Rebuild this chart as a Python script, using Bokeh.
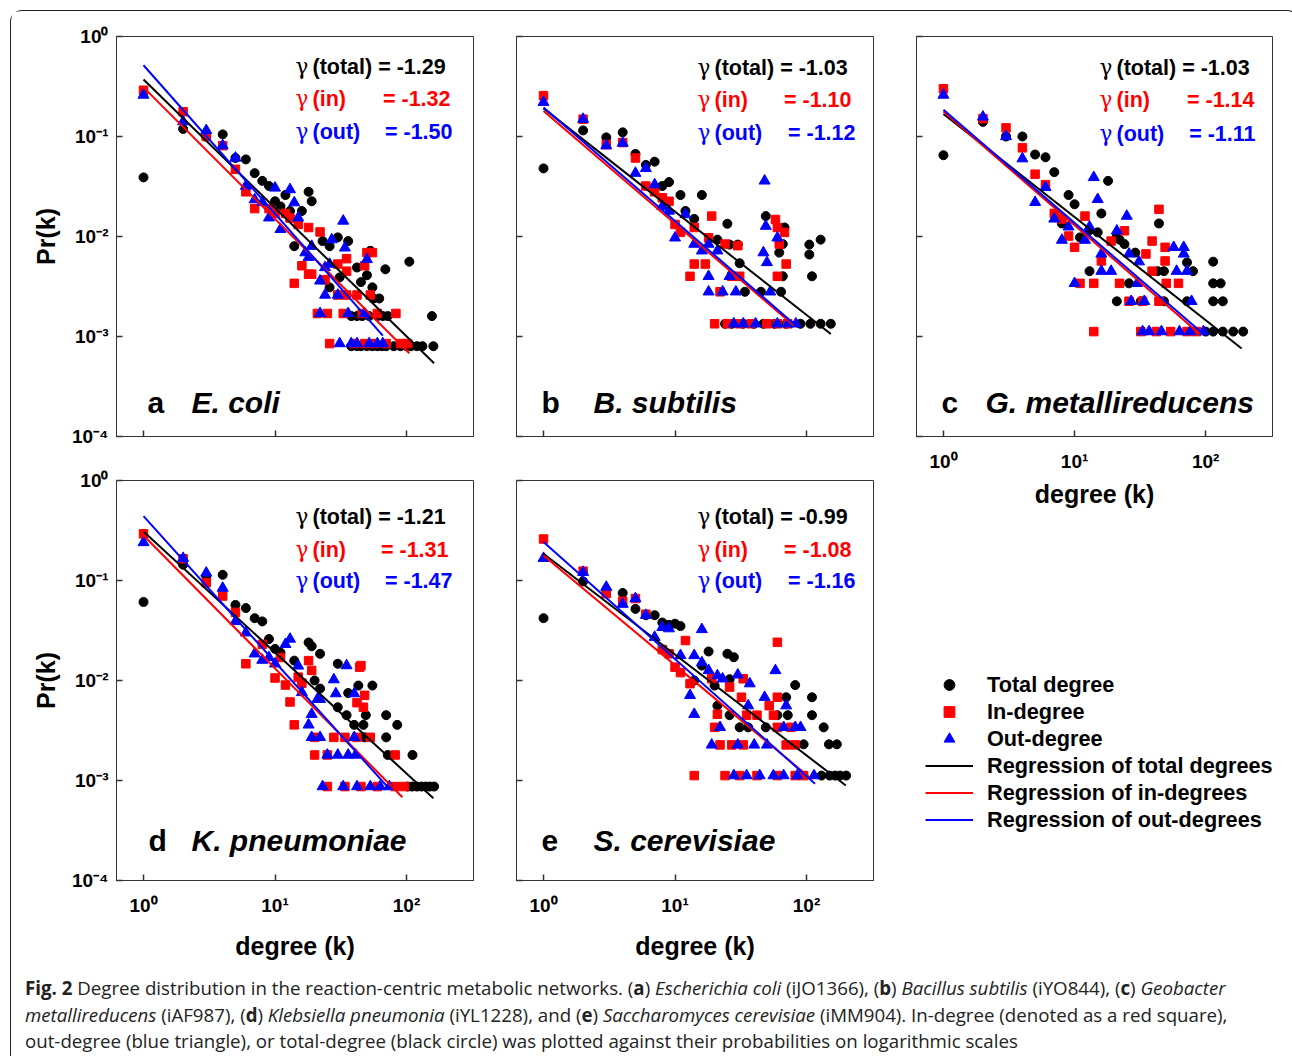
import math
import numpy as np
from bokeh.plotting import figure
from bokeh.models import (Label, Legend, LegendItem, FixedTicker,
                          CustomJSTickFormatter, Range1d, Div)
from bokeh.layouts import row, column
from bokeh.embed import file_html
from bokeh.resources import INLINE

# ---------------------------------------------------------------- data
panel_letters = ["a", "b", "c", "d", "e"]
species = ["E. coli", "B. subtilis", "G. metallireducens", "K. pneumoniae", "S. cerevisiae"]
gamma_total = ["-1.29", "-1.03", "-1.03", "-1.21", "-0.99"]
gamma_in = ["-1.32", "-1.10", "-1.14", "-1.31", "-1.08"]
gamma_out = ["-1.50", "-1.12", "-1.11", "-1.47", "-1.16"]
x_ticks = [1, 10, 100]
y_ticks = [1e-4, 1e-3, 1e-2, 1e-1, 1]

# (a) E. coli
ecoli_total_k = [1, 2, 3, 4, 5, 6, 7, 8, 9, 10, 11, 12, 13, 14, 16, 18, 19, 23, 26, 26, 30, 31, 36, 42, 45, 50, 53, 55, 56, 62, 69, 105,
                 38, 42, 46, 52, 60, 66, 72, 38, 42, 45, 50, 55, 60, 65, 70, 80, 90, 100, 108, 120, 132, 156, 160]
ecoli_total_p = [0.039, 0.119, 0.1, 0.105, 0.061, 0.059, 0.043, 0.036, 0.032, 0.0225, 0.020, 0.026, 0.018, 0.008, 0.018, 0.028, 0.0225, 0.009, 0.008, 0.0031, 0.0098, 0.0039, 0.009, 0.0049, 0.0035, 0.0041, 0.0072, 0.0031, 0.0024, 0.0024, 0.0047, 0.0056,
                 0.0016, 0.0016, 0.0016, 0.0016, 0.0016, 0.0016, 0.0016, 0.0008, 0.0008, 0.0008, 0.0008, 0.0008, 0.0008, 0.0008, 0.0008, 0.0008, 0.0008, 0.0008, 0.0008, 0.0008, 0.0008, 0.0016, 0.0008]
ecoli_in_k = [1, 2, 3, 4, 5, 6, 7, 9, 10, 12, 13, 15, 18, 22, 16, 18, 19, 14, 24, 30, 35, 35, 50, 55, 48, 30, 35, 42, 53,
              21, 25, 33, 46, 60, 83, 26, 40, 48, 57, 70, 90, 102]
ecoli_in_p = [0.29, 0.177, 0.10, 0.081, 0.047, 0.028, 0.019, 0.019, 0.017, 0.017, 0.0153, 0.0132, 0.0123, 0.0111, 0.0051, 0.0042, 0.0042, 0.0034, 0.0037, 0.0053, 0.006, 0.0045, 0.0069, 0.0069, 0.0051, 0.0026, 0.0026, 0.0026, 0.0026,
              0.0017, 0.0017, 0.0017, 0.0017, 0.0017, 0.0017, 0.00085, 0.00085, 0.00085, 0.00085, 0.00085, 0.00085, 0.00085]
ecoli_out_k = [1, 2, 3, 4, 5, 6, 7, 8, 10, 13, 14, 9, 11, 15, 19, 27, 33, 34, 17, 18, 22, 24, 24, 26, 30, 50,
               22, 36, 48, 31, 38, 42, 52, 60, 66]
ecoli_out_p = [0.26, 0.141, 0.115, 0.081, 0.061, 0.032, 0.0234, 0.022, 0.0306, 0.0295, 0.0218, 0.0154, 0.0118, 0.0154, 0.008, 0.0093, 0.0143, 0.0077, 0.0069, 0.0062, 0.0036, 0.0026, 0.0049, 0.0053, 0.0026, 0.0059,
               0.0017, 0.0017, 0.0017, 0.00085, 0.00085, 0.00085, 0.00085, 0.00085, 0.00085]
ecoli_fit_k = [[1, 162], [1, 105], [1, 66]]
ecoli_fit_p = [[0.371, 5.4e-4], [0.31, 6.8e-4], [0.516, 1.02e-3]]

# (b) B. subtilis
bsub_total_k = [1, 2, 3, 4, 5, 6, 7, 8, 9, 11, 12, 14, 16, 21, 25, 26, 30, 31, 34, 45, 49, 62, 66, 66, 64, 68, 105, 128, 105, 110,
                24, 27, 33, 40, 47, 57, 70, 90, 107, 128, 153]
bsub_total_p = [0.048, 0.115, 0.098, 0.11, 0.067, 0.052, 0.056, 0.032, 0.035, 0.026, 0.018, 0.015, 0.026, 0.0093, 0.0134, 0.0083, 0.0083, 0.0054, 0.0028, 0.0028, 0.016, 0.0069, 0.004, 0.0084, 0.0028, 0.0123, 0.0083, 0.0093, 0.0066, 0.004,
                0.00134, 0.00134, 0.00134, 0.00134, 0.00134, 0.00134, 0.00134, 0.00134, 0.00134, 0.00134, 0.00134]
bsub_in_k = [1, 2, 3, 4, 5, 6, 7, 8, 9, 10, 11, 14, 19, 18, 24, 30, 14, 17, 13, 22, 27, 31, 58, 60, 68, 62, 70, 60,
             20, 25, 31, 38, 50, 60, 72]
bsub_in_p = [0.256, 0.149, 0.083, 0.087, 0.061, 0.032, 0.028, 0.0244, 0.0225, 0.0132, 0.011, 0.0123, 0.016, 0.0097, 0.0084, 0.0081, 0.0053, 0.0053, 0.004, 0.0028, 0.004, 0.004, 0.0148, 0.0123, 0.011, 0.0084, 0.0053, 0.004,
             0.00134, 0.00134, 0.00134, 0.00134, 0.00134, 0.00134, 0.00134]
bsub_out_k = [1, 2, 3, 4, 5, 6, 7, 8, 9, 12, 10, 14, 16, 18, 21, 26, 18, 18, 23, 29, 48, 49, 47, 50, 60, 53,
              28, 33, 41, 60, 72, 83]
bsub_out_p = [0.22, 0.149, 0.081, 0.086, 0.043, 0.048, 0.033, 0.02, 0.018, 0.0166, 0.0097, 0.0084, 0.0072, 0.0084, 0.0072, 0.004, 0.004, 0.0028, 0.0028, 0.0028, 0.036, 0.0127, 0.0069, 0.0055, 0.0097, 0.0028,
              0.00134, 0.00134, 0.00134, 0.00134, 0.00134, 0.00134]
bsub_fit_k = [[1, 153], [1, 80], [1, 86]]
bsub_fit_p = [[0.191, 1.06e-3], [0.18, 1.29e-3], [0.195, 1.24e-3]]

# (c) G. metallireducens
gmet_total_k = [1, 2, 3, 4, 5, 6, 7, 8, 9, 10, 11, 13, 15, 16, 18, 21, 22, 24, 29, 44, 43, 48, 72, 80, 13, 21, 26, 32, 48, 72,
                114, 114, 130, 114, 135, 100, 114, 135, 162, 193]
gmet_total_p = [0.065, 0.14, 0.1, 0.1, 0.066, 0.062, 0.044, 0.0135, 0.026, 0.021, 0.0098, 0.0115, 0.011, 0.017, 0.036, 0.01, 0.0093, 0.0084, 0.0069, 0.0135, 0.0045, 0.0045, 0.0055, 0.0045, 0.0045, 0.00225, 0.0034, 0.00225, 0.00225, 0.00225,
                0.0056, 0.0034, 0.0034, 0.00225, 0.00225, 0.00112, 0.00112, 0.00112, 0.00112, 0.00112]
gmet_in_k = [1, 2, 3, 4, 5, 6, 7, 8, 9, 10, 12, 14, 11, 14, 16, 19, 24, 22, 26, 39, 44, 35, 49, 49, 39, 50, 62, 33, 44,
             32, 42, 54, 72, 85]
gmet_in_p = [0.30, 0.151, 0.122, 0.077, 0.042, 0.033, 0.017, 0.015, 0.0101, 0.0078, 0.016, 0.00112, 0.0034, 0.0034, 0.0057, 0.009, 0.0114, 0.0034, 0.00225, 0.009, 0.0187, 0.0067, 0.0078, 0.0057, 0.0045, 0.0034, 0.0034, 0.00225, 0.00225,
             0.00112, 0.00112, 0.00112, 0.00112, 0.00112]
gmet_out_k = [1, 2, 3, 4, 5, 6, 7, 8, 9, 10, 12, 14, 15, 13, 16, 16, 19, 21, 25, 26, 31, 30, 27, 34, 57, 68, 68, 60, 72, 78,
              33, 37, 46, 63, 76, 96]
gmet_out_p = [0.26, 0.157, 0.1, 0.06, 0.022, 0.031, 0.015, 0.0092, 0.0125, 0.0034, 0.0092, 0.039, 0.0235, 0.0125, 0.0067, 0.0045, 0.0045, 0.0114, 0.016, 0.0067, 0.0056, 0.0034, 0.00225, 0.00225, 0.0078, 0.0078, 0.0067, 0.0045, 0.0045, 0.00225,
              0.00112, 0.00112, 0.00112, 0.00112, 0.00112, 0.00112]
gmet_fit_k = [[1, 188], [1, 91], [1, 96]]
gmet_fit_p = [[0.168, 7.6e-4], [0.178, 1.05e-3], [0.185, 1.06e-3]]

# (d) K. pneumoniae
kpn_total_k = [1, 2, 3, 4, 5, 6, 7, 8, 9, 10, 11, 14, 18, 19, 22, 20, 22, 30, 36, 43, 55, 30, 35, 40, 47, 49, 70, 85, 48, 70, 72, 111,
               102, 110, 120, 130, 140, 150, 162]
kpn_total_p = [0.061, 0.144, 0.11, 0.114, 0.057, 0.053, 0.042, 0.039, 0.026, 0.0207, 0.019, 0.0158, 0.024, 0.022, 0.0185, 0.01, 0.0083, 0.0147, 0.0075, 0.0089, 0.0089, 0.0054, 0.0045, 0.0036, 0.0036, 0.0045, 0.0045, 0.0036, 0.0027, 0.0027, 0.0018, 0.0018,
               0.00087, 0.00087, 0.00087, 0.00087, 0.00087, 0.00087, 0.00087]
kpn_in_k = [1, 2, 3, 4, 5, 6, 8, 10, 11, 12, 13, 14, 18, 19, 16, 15, 44, 45, 48, 42, 47, 20, 28, 34, 42, 53, 20, 25, 82,
            25, 34, 45, 60, 82, 96]
kpn_in_p = [0.293, 0.165, 0.095, 0.07, 0.048, 0.0147, 0.023, 0.0106, 0.017, 0.009, 0.0061, 0.0036, 0.0158, 0.0126, 0.0094, 0.0108, 0.0136, 0.0141, 0.0071, 0.006, 0.0054, 0.0027, 0.0027, 0.0027, 0.0027, 0.0027, 0.0018, 0.0018, 0.0018,
            0.00087, 0.00087, 0.00087, 0.00087, 0.00087, 0.00087]
kpn_out_k = [1, 2, 3, 4, 5, 6, 7, 8, 9, 10, 12, 13, 15, 16, 19, 18, 19, 22, 21, 22, 28, 29, 35, 40, 40, 25, 30, 36, 41,
             23, 33, 42, 53, 63, 74]
kpn_out_p = [0.24, 0.167, 0.119, 0.084, 0.039, 0.03, 0.0185, 0.016, 0.017, 0.0147, 0.023, 0.026, 0.014, 0.0076, 0.0046, 0.0036, 0.0027, 0.0027, 0.0065, 0.0065, 0.0102, 0.0074, 0.0141, 0.0074, 0.0027, 0.0018, 0.0018, 0.0018, 0.0018,
             0.00087, 0.00087, 0.00087, 0.00087, 0.00087, 0.00087]
kpn_fit_k = [[1, 160], [1, 93], [1, 74]]
kpn_fit_p = [[0.309, 6.65e-4], [0.282, 6.8e-4], [0.44, 8.26e-4]]

# (e) S. cerevisiae
scer_total_k = [1, 2, 3, 4, 5, 6, 7, 8, 9, 10, 11, 18, 25, 28, 16, 14, 26, 20, 21, 26, 31, 36, 49, 82, 70, 60, 72, 110, 110, 135, 95, 148, 170,
                130, 150, 165, 180, 200]
scer_total_p = [0.042, 0.098, 0.08, 0.075, 0.052, 0.045, 0.045, 0.038, 0.036, 0.037, 0.035, 0.0195, 0.0185, 0.0171, 0.0141, 0.01, 0.0103, 0.0089, 0.0056, 0.0045, 0.0034, 0.0034, 0.0034, 0.009, 0.0068, 0.0045, 0.0045, 0.0068, 0.0045, 0.0034, 0.0023, 0.0023, 0.0023,
                0.00112, 0.00112, 0.00112, 0.00112, 0.00112]
scer_in_k = [1, 2, 3, 4, 5, 6, 8, 9, 10, 12, 11, 14, 13, 19, 21, 20, 22, 26, 33, 32, 35, 42, 52, 60, 60, 56, 60, 76, 70, 82, 27, 33,
             24, 31, 42, 60, 82, 95]
scer_in_p = [0.26, 0.124, 0.074, 0.062, 0.066, 0.046, 0.0204, 0.0185, 0.0136, 0.0251, 0.012, 0.00112, 0.0093, 0.0104, 0.0046, 0.0034, 0.00227, 0.0086, 0.0104, 0.0068, 0.0045, 0.0045, 0.0056, 0.0068, 0.0241, 0.0045, 0.0034, 0.0034, 0.00227, 0.00227, 0.00227, 0.00227,
             0.00112, 0.00112, 0.00112, 0.00112, 0.00112, 0.00112]
scer_out_k = [1, 2, 3, 4, 5, 6, 7, 8, 9, 11, 14, 16, 16, 13, 14, 18, 21, 23, 30, 37, 36, 48, 58, 70, 22, 19, 30, 40, 50, 67, 82, 90,
              28, 35, 44, 56, 67, 85, 114]
scer_out_p = [0.167, 0.121, 0.086, 0.058, 0.066, 0.045, 0.0271, 0.034, 0.033, 0.0178, 0.0178, 0.0324, 0.0151, 0.0071, 0.0046, 0.0126, 0.0112, 0.0104, 0.0114, 0.0093, 0.0056, 0.0068, 0.0126, 0.0056, 0.0034, 0.00227, 0.00227, 0.00227, 0.00227, 0.0034, 0.0034, 0.0034,
              0.00112, 0.00112, 0.00112, 0.00112, 0.00112, 0.00112, 0.00112]
scer_fit_k = [[1, 199], [1, 105], [1, 116]]
scer_fit_p = [[0.185, 8.9e-4], [0.178, 1.08e-3], [0.242, 9.3e-4]]

legend_labels = ["Total degree", "In-degree", "Out-degree",
                 "Regression of total degrees", "Regression of in-degrees", "Regression of out-degrees"]

# ---------------------------------------------------------------- style / layout
FONT = "Liberation Sans"
GFONT = "DejaVu Serif"
RED = "#ff0000"
BLUE = "#0000ff"
AX = "#333333"
X0, X1 = 0.623, 323.0
Y0, Y1 = 1e-4, 1.0
FH = 400

SUP_JS = """
const sup = {"-": "\\u207b", "0": "\\u2070", "1": "\\u00b9", "2": "\\u00b2", "3": "\\u00b3", "4": "\\u2074"};
const e = Math.round(Math.log10(tick));
let s = "10";
for (const c of String(e)) { s += sup[c]; }
return s;
"""


def pos(dx, dy, fw):
    lx = math.log10(X0) + dx / fw * (math.log10(X1) - math.log10(X0))
    ly = math.log10(Y1) - dy / FH * (math.log10(Y1) - math.log10(Y0))
    return 10 ** lx, 10 ** ly


def style_axis(ax, ticks, show, title, label_standoff, title_standoff):
    ax.ticker = FixedTicker(ticks=ticks)
    ax.major_tick_in = 6
    ax.major_tick_out = 0
    ax.minor_tick_in = 0
    ax.minor_tick_out = 0
    ax.axis_line_color = AX
    ax.major_tick_line_color = AX
    ax.major_tick_line_width = 1.5
    if show:
        ax.formatter = CustomJSTickFormatter(code=SUP_JS)
        ax.major_label_text_font = FONT
        ax.major_label_text_font_style = "bold"
        ax.major_label_text_font_size = "19px"
        ax.major_label_text_color = "black"
        ax.major_label_standoff = label_standoff
        ax.axis_label = title
        ax.axis_label_text_font = FONT
        ax.axis_label_text_font_style = "bold"
        ax.axis_label_text_font_size = "25px"
        ax.axis_label_text_color = "black"
        ax.axis_label_standoff = title_standoff
    else:
        ax.formatter = CustomJSTickFormatter(code="return '';")
        ax.major_label_text_font_size = "0px"
        ax.major_label_standoff = 0


txt_total = [(179, 30), (181, 31), (183, 31), (179, 36), (181, 36)]
txt_in = [(179, 62), (181, 63), (183, 63), (179, 69), (181, 69)]
txt_in_r = [334, 335, 338, 332, 335]
txt_out = [(179, 95), (181, 96), (183, 97), (179, 100), (181, 100)]
txt_out_r = [336, 339, 339, 336, 339]
txt_letter = [(31, 366), (25, 366), (25, 366), (32, 360), (25, 360)]
txt_species = [75, 77, 69, 75, 77]


def panel(i, tk, tp, ik, ip, ok, op, fk, fp, fw, borders, ylab, xlab, xtitle_standoff=13):
    left, right, top, bottom = borders
    p = figure(width=left + fw + right, height=top + FH + bottom,
               x_axis_type="log", y_axis_type="log",
               x_range=Range1d(X0, X1), y_range=Range1d(Y0, Y1),
               output_backend="svg", toolbar_location=None, title=None,
               min_border_left=left, min_border_right=right,
               min_border_top=top, min_border_bottom=bottom)
    p.xgrid.visible = False
    p.ygrid.visible = False
    p.outline_line_color = AX
    p.outline_line_width = 1
    p.background_fill_color = "white"
    style_axis(p.xaxis[0], x_ticks, xlab, "degree (k)", 14, xtitle_standoff)
    style_axis(p.yaxis[0], y_ticks, ylab, "Pr(k)", 8, 9)

    p.scatter(tk, tp, marker="circle", size=9, color="black")
    p.scatter(ik, ip, marker="square", size=8.5, color=RED)
    p.scatter(ok, op, marker="triangle", size=11, color=BLUE)
    for (kk, pp, c) in zip(fk, fp, ["black", RED, BLUE]):
        p.line(kk, pp, color=c, line_width=2)

    def lab(dx, dy, text, color, align="left", size="21.5px", style="bold", font=FONT):
        x, y = pos(dx, dy, fw)
        p.add_layout(Label(x=x, y=y, text=text, text_color=color, text_font=font,
                           text_font_style=style, text_font_size=size,
                           text_align=align, text_baseline="middle"))

    def gamma_lab(dx, dy, rest, color):
        lab(dx, dy, "\u03b3", color, style="normal", font=GFONT)
        lab(dx + 17, dy, rest, color)

    gamma_lab(*txt_total[i], "(total) = " + gamma_total[i], "black")
    gamma_lab(*txt_in[i], "(in)", RED)
    lab(txt_in_r[i], txt_in[i][1], "= " + gamma_in[i], RED, align="right")
    gamma_lab(*txt_out[i], "(out)", BLUE)
    lab(txt_out_r[i], txt_out[i][1], "= " + gamma_out[i], BLUE, align="right")
    lab(*txt_letter[i], panel_letters[i], "black", size="30px")
    lab(txt_species[i], txt_letter[i][1], species[i], "black", size="30px", style="bold italic")
    return p


pa = panel(0, ecoli_total_k, ecoli_total_p, ecoli_in_k, ecoli_in_p, ecoli_out_k, ecoli_out_p,
           ecoli_fit_k, ecoli_fit_p, 357, (105, 21, 25, 22), True, False)
pb = panel(1, bsub_total_k, bsub_total_p, bsub_in_k, bsub_in_p, bsub_out_k, bsub_out_p,
           bsub_fit_k, bsub_fit_p, 357, (22, 21, 25, 22), False, False)
pc = panel(2, gmet_total_k, gmet_total_p, gmet_in_k, gmet_in_p, gmet_out_k, gmet_out_p,
           gmet_fit_k, gmet_fit_p, 356, (22, 6, 25, 79), False, True, xtitle_standoff=5)
pd = panel(3, kpn_total_k, kpn_total_p, kpn_in_k, kpn_in_p, kpn_out_k, kpn_out_p,
           kpn_fit_k, kpn_fit_p, 357, (105, 21, 22, 85), True, True)
pe = panel(4, scer_total_k, scer_total_p, scer_in_k, scer_in_p, scer_out_k, scer_out_p,
           scer_fit_k, scer_fit_p, 357, (22, 21, 22, 85), False, True)

# legend panel: legend-only renderers (no visible data)
pl = figure(width=384, height=450, x_range=Range1d(0, 1), y_range=Range1d(0, 1),
            output_backend="svg", toolbar_location=None, title=None,
            x_axis_location=None, y_axis_location=None, min_border=0)
pl.grid.visible = False
pl.outline_line_color = None
nan = np.array([np.nan])
r_tot = pl.scatter(x=nan, y=nan, marker="circle", color="black")
r_in = pl.scatter(x=nan, y=nan, marker="square", color=RED)
r_out = pl.scatter(x=nan, y=nan, marker="triangle", color=BLUE)
l_tot = pl.line(x=nan, y=nan, color="black", line_width=2)
l_in = pl.line(x=nan, y=nan, color=RED, line_width=2)
l_out = pl.line(x=nan, y=nan, color=BLUE, line_width=2)
items = [LegendItem(label=t, renderers=[r]) for t, r in
         zip(legend_labels, [r_tot, r_in, r_out, l_tot, l_in, l_out])]
legend = Legend(items=items, location=(9, 132), glyph_width=48, glyph_height=27,
                spacing=0, padding=0, margin=0, label_standoff=14,
                label_text_font=FONT, label_text_font_style="bold",
                label_text_font_size="21.7px", label_text_color="black",
                border_line_color=None, background_fill_alpha=0)
pl.add_layout(legend)

# caption
line_css = "white-space:nowrap; line-height:26.5px; height:26.5px;"
cap_lines = [
    "<b>Fig. 2</b> Degree distribution in the reaction-centric metabolic networks. (<b>a</b>) "
    "<i>Escherichia coli</i> (iJO1366), (<b>b</b>) <i>Bacillus subtilis</i> (iYO844), (<b>c</b>) <i>Geobacter</i>",
    "<i>metallireducens</i> (iAF987), (<b>d</b>) <i>Klebsiella pneumonia</i> (iYL1228), and (<b>e</b>) "
    "<i>Saccharomyces cerevisiae</i> (iMM904). In-degree (denoted as a red square),",
    "out-degree (blue triangle), or total-degree (black circle) was plotted against their probabilities on logarithmic scales",
]
cap_html = ('<div style="font-family:\'Open Sans\'; font-size:18.7px; color:#222; padding:5px 0 0 9px;">'
            + "".join('<div style="%s">%s</div>' % (line_css, t) for t in cap_lines) + "</div>")
caption = Div(text=cap_html, width=1267, height=88, styles={"overflow": "hidden"})

layout = column(
    row(column(row(pa, pb), row(pd, pe)), column(pc, pl)),
    caption,
    styles={"margin-left": "10px", "margin-top": "10px", "padding-right": "10px",
            "border-top": "1px solid #222", "border-left": "1px solid #222",
            "border-right": "1px solid #222", "border-radius": "12px 12px 0 0"},
)

open("out.html", "w").write(file_html(layout, INLINE))
